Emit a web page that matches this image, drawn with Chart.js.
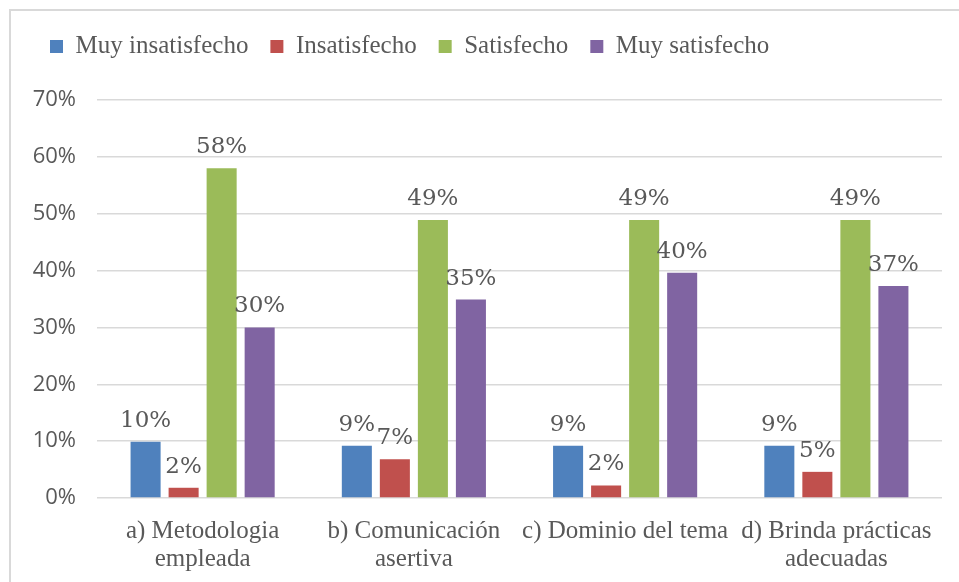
<!DOCTYPE html>
<html><head><meta charset="utf-8">
<script src="https://cdn.jsdelivr.net/npm/chart.js@4.4.0/dist/chart.umd.min.js"></script>
<style>
html,body{margin:0;padding:0;background:#fff;overflow:hidden}
#wrap{position:relative;width:959px;height:582px;overflow:hidden}
#frame{position:absolute;left:9px;top:9px;width:2000px;height:2000px;border-left:2px solid #D9D9D9;border-top:2px solid #D9D9D9;pointer-events:none}
canvas{position:absolute;left:0;top:0}
</style></head><body>
<div id="wrap"><canvas id="c" width="959" height="582"></canvas><div id="frame"></div></div>
<script>
const categories = [["a) Metodologia","empleada"],["b) Comunicación","asertiva"],"c) Dominio del tema",["d) Brinda prácticas","adecuadas"]];
const seriesNames = ["Muy insatisfecho","Insatisfecho","Satisfecho","Muy satisfecho"];
const muyInsatisfecho = [9.9, 9.2, 9.2, 9.2];
const insatisfecho = [1.8, 6.8, 2.2, 4.6];
const satisfecho = [58, 48.9, 48.9, 48.9];
const muySatisfecho = [30, 34.9, 39.6, 37.3];
const seriesColors = ["#4F81BD","#C0504D","#9BBB59","#8064A2"];
const yMin = 0, yMax = 70, yStep = 10;

const TEXT = "#595959";

const legendSpacer = {
  id: 'legendSpacer',
  afterInit(chart) {
    const lg = chart.legend;
    if (!lg) return;
    const f = lg.fit.bind(lg);
    lg.fit = function () { f(); this.height += 31; };
  }
};

const valueLabels = {
  id: 'valueLabels',
  afterDatasetsDraw(chart) {
    const ctx = chart.ctx;
    ctx.save();
    ctx.fillStyle = TEXT;
    ctx.font = '23px "DejaVu Serif"';
    ctx.textAlign = 'center';
    ctx.textBaseline = 'alphabetic';
    chart.data.datasets.forEach((ds, di) => {
      const meta = chart.getDatasetMeta(di);
      meta.data.forEach((el, i) => {
        ctx.fillText(Math.round(ds.data[i]) + '%', el.x, el.y - 15);
      });
    });
    ctx.restore();
  }
};

const allSeries = [muyInsatisfecho, insatisfecho, satisfecho, muySatisfecho];

new Chart(document.getElementById('c'), {
  type: 'bar',
  data: {
    labels: categories,
    datasets: allSeries.map((d, i) => ({
      label: seriesNames[i],
      data: d,
      backgroundColor: seriesColors[i],
      borderWidth: 0,
      categoryPercentage: 0.72,
      barPercentage: 0.79
    }))
  },
  options: {
    responsive: false,
    animation: false,
    devicePixelRatio: 1,
    layout: { padding: { left: 28, right: 17, top: 12, bottom: 0 } },
    plugins: {
      tooltip: { enabled: false },
      legend: {
        position: 'top',
        align: 'start',
        labels: {
          boxWidth: 13, boxHeight: 13, padding: 22,
          color: TEXT,
          font: { family: '"Liberation Serif"', size: 25 }
        }
      }
    },
    scales: {
      x: {
        grid: { display: false, drawTicks: false },
        border: { display: false },
        ticks: {
          color: TEXT, padding: 20, maxRotation: 0, autoSkip: false,
          font: { family: '"Liberation Serif"', size: 25, lineHeight: 1.1 }
        },
        afterFit(s) { s.height = 84; }
      },
      y: {
        min: yMin, max: yMax,
        grid: { color: '#D9D9D9', lineWidth: 1.5, drawTicks: false },
        border: { display: false },
        ticks: {
          stepSize: yStep, color: TEXT, padding: 21,
          font: { family: '"Open Sans"', size: 22 },
          callback: v => v + '%'
        },
        afterFit(s) { s.width = 69; }
      }
    }
  },
  plugins: [legendSpacer, valueLabels]
});
</script>
</body></html>
